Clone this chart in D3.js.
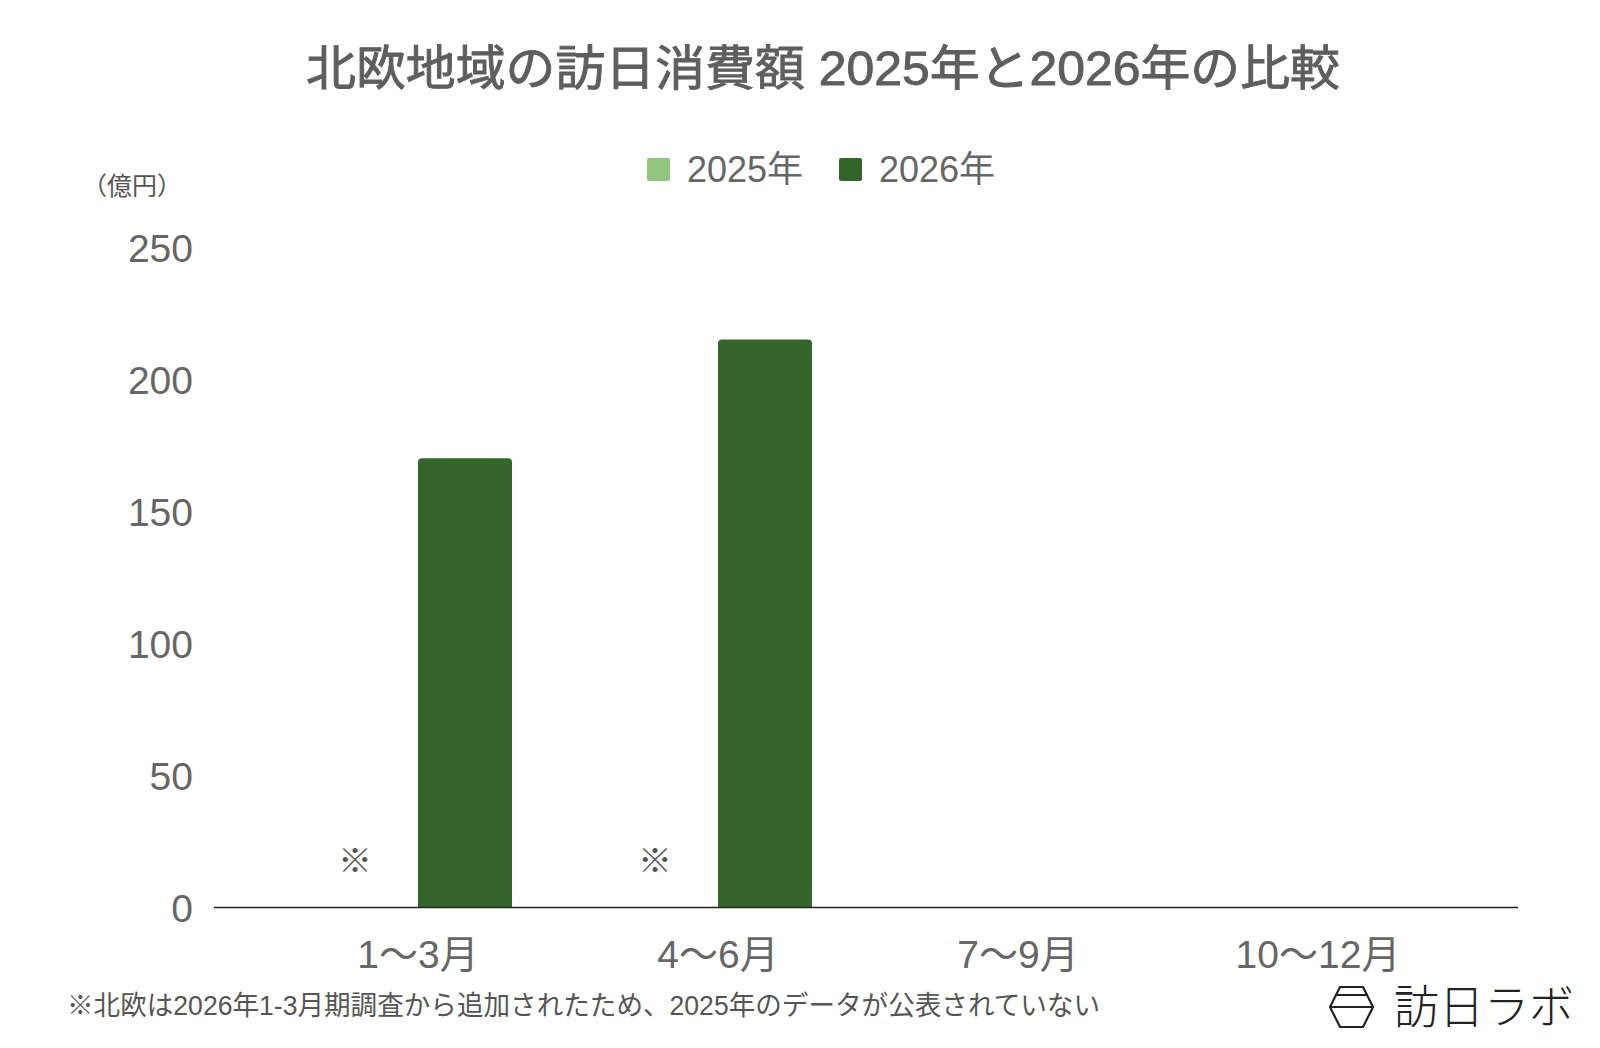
<!DOCTYPE html>
<html><head><meta charset="utf-8">
<script src="https://cdn.jsdelivr.net/npm/d3@7"></script>
<style>body{margin:0;background:#fff}svg{display:block}</style>
</head><body>
<svg id="c" width="1600" height="1048"></svg>
<script>
const categories = ["1〜3月", "4〜6月", "7〜9月", "10〜12月"];
const seriesNames = ["2025年", "2026年"];
const values2025 = [null, null, null, null];
const values2026 = [170, 215, null, null];
const yTicks = [0, 50, 100, 150, 200, 250];
const noteMarks = ["※", "※", null, null];
const colors = ["#93c47d", "#34662c"];
const titleText = "北欧地域の訪日消費額 2025年と2026年の比較";
const unitText = "（億円）";
const footnote = "※北欧は2026年1-3月期調査から追加されたため、2025年のデータが公表されていない";
const logoText = "訪日ラボ";

const svg = d3.select("#c");
const FONT = "'Liberation Sans', 'Noto Sans CJK JP', sans-serif";

const x0 = d3.scaleBand().domain(categories).range([268, 1468]).paddingInner(0.3733).paddingOuter(0.18667);
const x1 = d3.scaleBand().domain(seriesNames).range([0, x0.bandwidth()]).padding(0);
const y = d3.scaleLinear().domain([0, 250]).range([907, 247]);

// title
svg.append("text").attr("x", 306).attr("y", 85)
  .attr("font-family", FONT).attr("font-size", 48).attr("font-weight", "normal")
  .attr("fill", "#5e5e5e").attr("stroke", "#5e5e5e").attr("stroke-width", 0.9)
  .attr("textLength", 1034).attr("lengthAdjust", "spacingAndGlyphs").text(titleText);

// legend
const legendX = [647, 839];
seriesNames.forEach((s, i) => {
  const g = svg.append("g").attr("transform", `translate(${legendX[i]},158)`);
  g.append("rect").attr("width", 23).attr("height", 23).attr("rx", 2).attr("fill", colors[i]);
  g.append("text").attr("x", 40).attr("y", 24).attr("font-family", FONT).attr("font-size", 36)
    .attr("fill", "#666").text(s);
});

// unit
svg.append("text").attr("x", 82).attr("y", 195).attr("font-family", FONT).attr("font-size", 25)
  .attr("fill", "#555").text(unitText);

// y axis labels
const yAxis = d3.axisLeft(y).tickValues(yTicks).tickSize(0).tickPadding(0);
const ya = svg.append("g").attr("transform", "translate(193,0)").call(yAxis);
ya.select(".domain").remove();
ya.selectAll("text").attr("font-family", FONT).attr("font-size", 39).attr("fill", "#666").attr("dy", "0.36em");

// bars
const groups = svg.append("g").selectAll("g").data(categories).join("g")
  .attr("transform", d => `translate(${x0(d)},0)`);
const r = 4;
function barPath(x, w, top, bottom) {
  const rr = Math.min(r, (bottom - top));
  return `M${x},${bottom}V${top + rr}Q${x},${top} ${x + rr},${top}H${x + w - rr}Q${x + w},${top} ${x + w},${top + rr}V${bottom}Z`;
}
groups.each(function(cat, ci) {
  const vals = [values2025[ci], values2026[ci]];
  vals.forEach((v, si) => {
    if (v == null) return;
    d3.select(this).append("path")
      .attr("d", barPath(x1(seriesNames[si]), x1.bandwidth(), y(v), y(0)))
      .attr("fill", colors[si]);
  });
  if (noteMarks[ci]) {
    d3.select(this).append("text")
      .attr("x", x1(seriesNames[0]) + x1.bandwidth() / 2 - 16).attr("y", 873)
      .attr("text-anchor", "middle").attr("font-family", "'Noto Sans CJK JP', sans-serif")
      .attr("font-size", 34).attr("fill", "#555").text(noteMarks[ci]);
  }
});

// x axis line
svg.append("line").attr("x1", 214).attr("x2", 1518).attr("y1", 907.5).attr("y2", 907.5)
  .attr("stroke", "#222").attr("stroke-width", 1.6);

// x labels
const xAxis = d3.axisBottom(x0).tickSize(0).tickPadding(0);
const xa = svg.append("g").attr("transform", "translate(0,954)").call(xAxis);
xa.select(".domain").remove();
xa.selectAll("text").attr("font-family", FONT).attr("font-size", 39).attr("fill", "#666").attr("dy", "0.36em");

// footnote
svg.append("text").attr("x", 67).attr("y", 1015).attr("font-family", FONT).attr("font-size", 27)
  .attr("fill", "#555").attr("textLength", 1033).attr("lengthAdjust", "spacingAndGlyphs").text(footnote);

// logo
const lg = svg.append("g").attr("fill", "none").attr("stroke", "#222").attr("stroke-width", 2.2);
const hx = [[1340,987],[1363,987],[1373,1007],[1363,1027],[1340,1027],[1330,1007]];
lg.append("path").attr("d", d3.line()(hx) + "Z");
lg.append("line").attr("x1", 1335).attr("x2", 1368).attr("y1", 995).attr("y2", 995);
lg.append("line").attr("x1", 1330).attr("x2", 1373).attr("y1", 1007).attr("y2", 1007);
svg.append("text").attr("x", 1394).attr("y", 1023).attr("font-family", "'Noto Sans CJK JP', sans-serif")
  .attr("font-weight", 300).attr("font-size", 46).attr("fill", "#222").attr("textLength", 180)
  .attr("lengthAdjust", "spacingAndGlyphs").text(logoText);
</script>
</body></html>
